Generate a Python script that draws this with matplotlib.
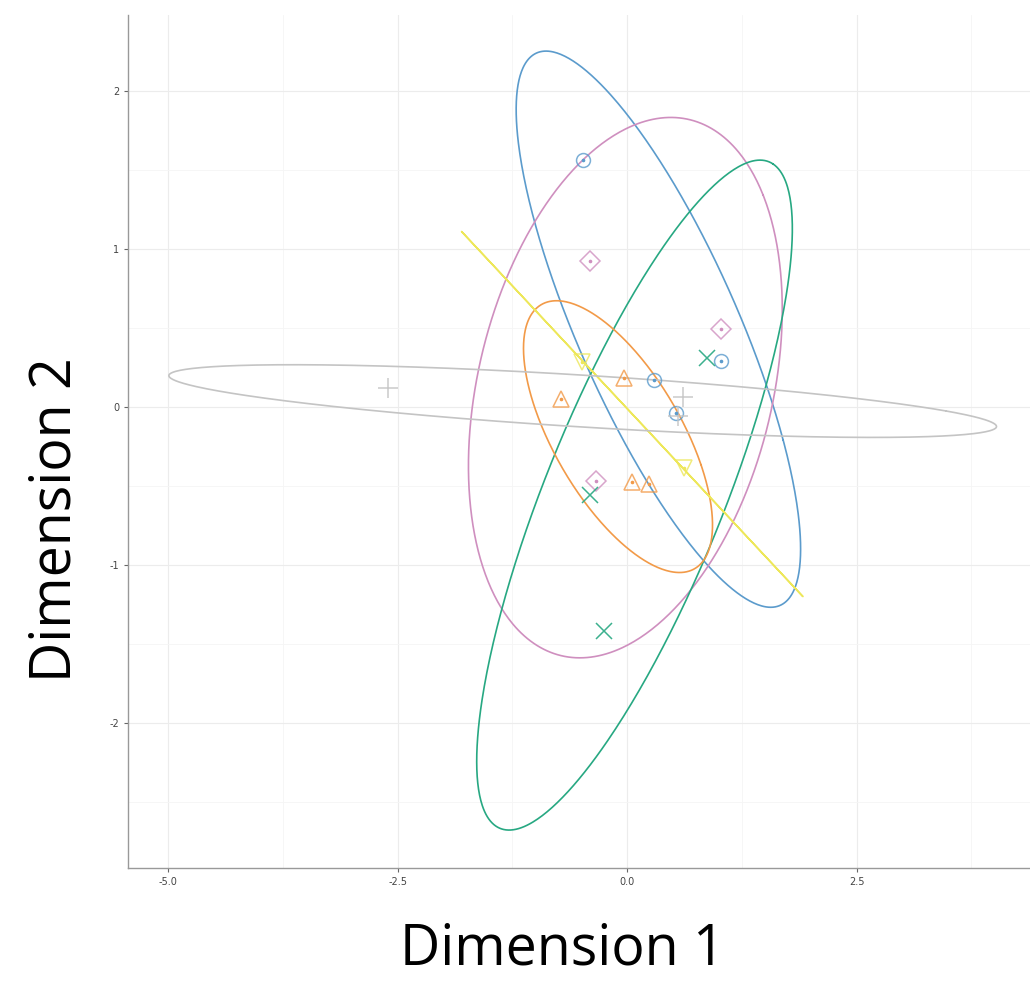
import numpy as np
import matplotlib
matplotlib.use("Agg")
import matplotlib.pyplot as plt

plt.rcParams['axes.unicode_minus'] = False

# group styles
groups = ["blue", "pink", "green", "orange", "yellow", "gray"]
colors = {"blue": "#5b9bcc", "pink": "#cf8fbf", "green": "#27a882",
          "orange": "#f29a48", "yellow": "#ede75a", "gray": "#c4c4c4"}
markers = {"blue": "o", "pink": "D", "green": "x", "orange": "^", "yellow": "v", "gray": "+"}

# points (Dimension 1, Dimension 2)
blue_x = [-0.48, 0.29, 0.53, 1.02]
blue_y = [1.56, 0.17, -0.04, 0.29]
pink_x = [-0.41, 1.02, -0.34]
pink_y = [0.92, 0.49, -0.47]
green_x = [0.87, -0.40, -0.25]
green_y = [0.31, -0.56, -1.42]
orange_x = [-0.72, -0.03, 0.05, 0.24]
orange_y = [0.05, 0.18, -0.48, -0.49]
yellow_x = [-0.49, 0.62]
yellow_y = [0.28, -0.39]
gray_x = [-2.61, 0.61, 0.55]
gray_y = [0.12, 0.06, -0.06]

# ellipses: centre, half extent in x / y, correlation
ell_cx = {"blue": 0.34, "pink": -0.02, "green": 0.08, "orange": -0.10, "yellow": 0.055, "gray": -0.485}
ell_cy = {"blue": 0.49, "pink": 0.12, "green": -0.56, "orange": -0.19, "yellow": -0.047, "gray": 0.035}
ell_rx = {"blue": 1.55, "pink": 1.71, "green": 1.72, "orange": 1.03, "yellow": 1.86, "gray": 4.51}
ell_ry = {"blue": 1.76, "pink": 1.71, "green": 2.12, "orange": 0.86, "yellow": 1.155, "gray": 0.23}
ell_rho = {"blue": -0.79, "pink": 0.29, "green": 0.795, "orange": -0.65, "yellow": -1.0, "gray": -0.70}

pts = {"blue": (blue_x, blue_y), "pink": (pink_x, pink_y), "green": (green_x, green_y),
       "orange": (orange_x, orange_y), "yellow": (yellow_x, yellow_y), "gray": (gray_x, gray_y)}

fig = plt.figure(figsize=(10.3, 9.83), dpi=100)
ax = fig.add_axes([0.1243, 0.117, 0.8757, 0.868])

t = np.linspace(0.5, 0.5 + 2 * np.pi, 500)
for g in groups:
    r = ell_rho[g]
    ex = ell_cx[g] + ell_rx[g] * np.cos(t)
    ey = ell_cy[g] + ell_ry[g] * (r * np.cos(t) + np.sqrt(max(0.0, 1 - r * r)) * np.sin(t))
    ax.plot(ex, ey, color=colors[g], lw=1.2, zorder=3,
            solid_joinstyle="round", solid_capstyle="round")

msize = {"blue": 10, "pink": 10, "green": 11, "orange": 12, "yellow": 12, "gray": 14}
for g in groups:
    x, y = pts[g]
    m = markers[g]
    if m in ("x", "+"):
        ax.plot(x, y, ls="none", marker=m, ms=msize[g], mew=1.1, color=colors[g], alpha=0.9, zorder=4)
    else:
        ax.plot(x, y, ls="none", marker=m, ms=msize[g], mew=1.1, mfc="none",
                mec=colors[g], alpha=0.8, zorder=4)
        ax.plot(x, y, ls="none", marker="o", ms=1.6, color=colors[g], zorder=5)

ax.set_xlim(-5.44, 4.39)
ax.set_ylim(-2.92, 2.48)
ax.set_xticks([-5.0, -2.5, 0.0, 2.5])
ax.set_xticklabels(["-5.0", "-2.5", "0.0", "2.5"])
ax.set_yticks([-2, -1, 0, 1, 2])
ax.set_xticks([-3.75, -1.25, 1.25, 3.75], minor=True)
ax.set_yticks([-2.5, -1.5, -0.5, 0.5, 1.5], minor=True)
ax.grid(True, which="major", color="#ececec", lw=0.8)
ax.grid(True, which="minor", color="#f5f5f5", lw=0.6)
ax.set_axisbelow(True)
ax.tick_params(which="major", labelsize=7, labelcolor="#444444", color="#666666", length=3, width=0.8)
ax.tick_params(which="minor", length=0)
for s in ["top", "right"]:
    ax.spines[s].set_visible(False)
for s in ["left", "bottom"]:
    ax.spines[s].set_color("#999999")
    ax.spines[s].set_linewidth(1.0)

fig.text(0.546, 0.0185, "Dimension 1", family="Open Sans", fontsize=40, ha="center", va="baseline")
fig.text(0.054, 0.471, "Dimension 2", family="Open Sans", fontsize=40, ha="center", va="center", rotation=90)

fig.savefig("out.png", dpi=100)
